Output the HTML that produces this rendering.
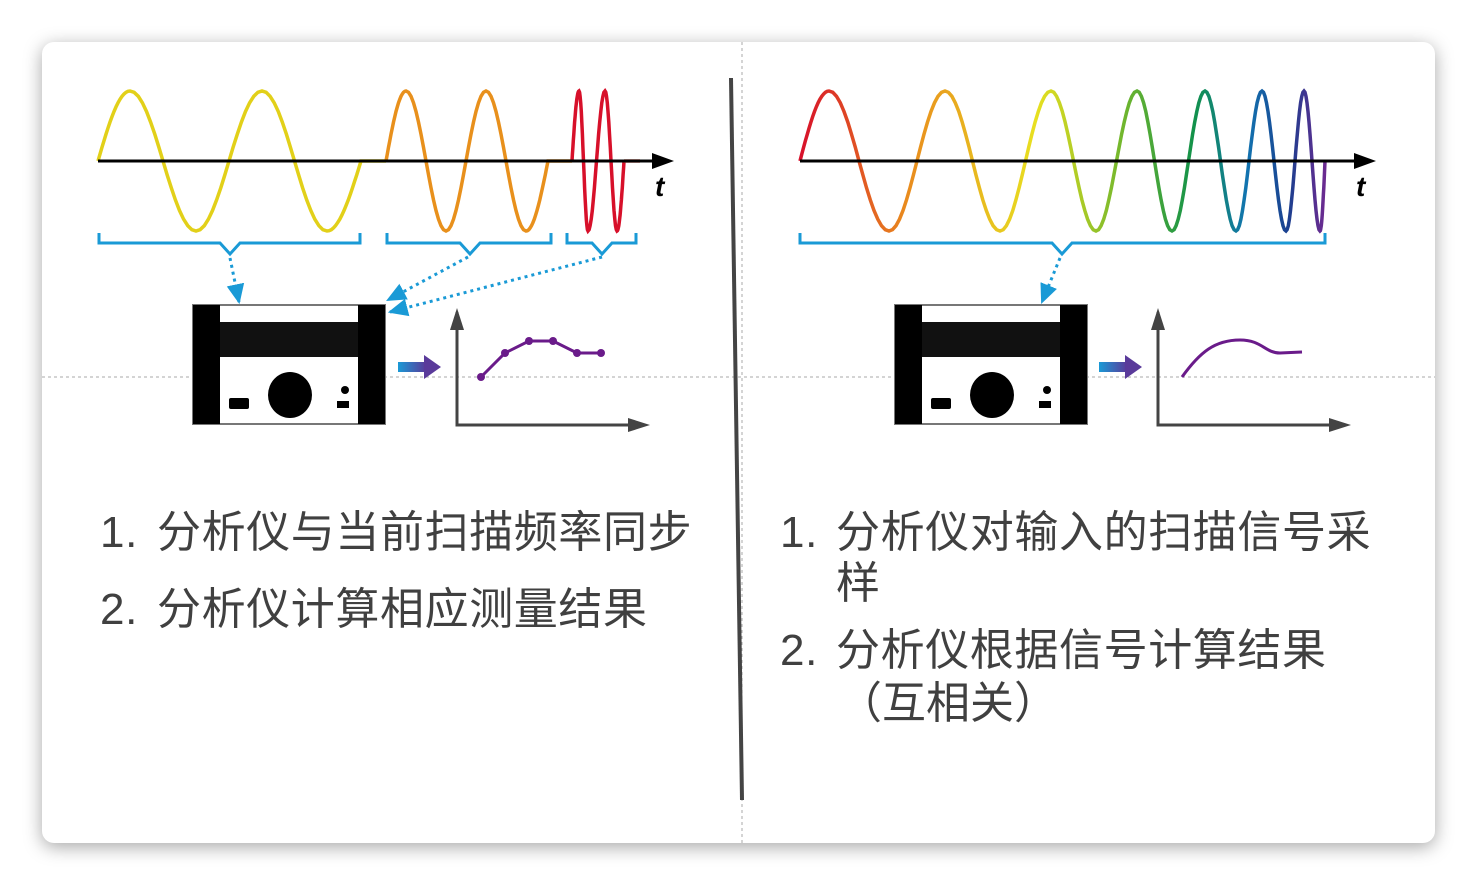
<!DOCTYPE html>
<html><head><meta charset="utf-8"><style>
body{margin:0;width:1477px;height:895px;background:#fff;position:relative;overflow:hidden;font-family:"Liberation Sans","Noto Sans CJK SC",sans-serif}
.card{position:absolute;left:42px;top:42px;width:1393px;height:801px;background:#fff;border-radius:12px;box-shadow:0 4px 18px rgba(0,0,0,.35)}
.t{position:absolute;color:#404040;white-space:nowrap;line-height:1}
.l{font-size:44px;letter-spacing:0.6px}
</style></head><body>
<div class="card"></div>
<svg width="1477" height="895" style="position:absolute;left:0;top:0">
<defs>
<linearGradient id="rb" gradientUnits="userSpaceOnUse" x1="800" y1="0" x2="1325" y2="0">
<stop offset="0" stop-color="#d7102a"/><stop offset="0.2" stop-color="#e98a1e"/><stop offset="0.45" stop-color="#e8e020"/><stop offset="0.62" stop-color="#6db52e"/><stop offset="0.75" stop-color="#12924a"/><stop offset="0.85" stop-color="#1274b0"/><stop offset="0.93" stop-color="#1b3f8f"/><stop offset="1" stop-color="#6b2a90"/>
</linearGradient>
<linearGradient id="ba" x1="0" x2="1"><stop offset="0" stop-color="#1a9ad6"/><stop offset="1" stop-color="#5a3a9a"/></linearGradient>
<marker id="ah" markerWidth="20" markerHeight="20" refX="16" refY="8" orient="auto" markerUnits="userSpaceOnUse" viewBox="0 0 18 16"><path d="M0,0 L18,8 L0,16 z" fill="#1a9ad6"/></marker>
</defs>
<line x1="742" y1="42" x2="742" y2="843" stroke="#aaa" stroke-dasharray="3,3" stroke-width="1"/>
<line x1="42" y1="377" x2="1435" y2="377" stroke="#aaa" stroke-dasharray="3,3" stroke-width="1"/>
<line x1="731" y1="78" x2="742" y2="800" stroke="#444" stroke-width="4"/>
<g id="waves" fill="none" stroke-width="3.5"></g>
<line x1="98" y1="161" x2="660" y2="161" stroke="#000" stroke-width="3"/>
<path d="M652,153 L674,161 L652,169z" fill="#000"/>
<text x="655" y="196" font-size="28" font-weight="bold" font-style="italic" font-family="Liberation Sans">t</text>
<line x1="800" y1="161" x2="1362" y2="161" stroke="#000" stroke-width="3"/>
<path d="M1354,153 L1376,161 L1354,169z" fill="#000"/>
<text x="1356" y="196" font-size="28" font-weight="bold" font-style="italic" font-family="Liberation Sans">t</text>
<g fill="none" stroke="#1a9ad6" stroke-width="3">
<path d="M99,233 V243 H220 L230,254 L240,243 H360 V233"/>
<path d="M387,233 V243 H460 L470,254 L480,243 H551 V233"/>
<path d="M567,233 V243 H592 L602,254 L612,243 H636 V233"/>
<path d="M800,233 V243 H1052 L1062,254 L1072,243 H1325 V233"/>
</g>
<g fill="none" stroke="#1a9ad6" stroke-width="3" stroke-dasharray="3,4" marker-end="url(#ah)">
<line x1="230" y1="258" x2="239" y2="302"/>
<line x1="468" y1="257" x2="388" y2="300"/>
<line x1="602" y1="257" x2="390" y2="312"/>
<line x1="1060" y1="258" x2="1042" y2="302"/>
</g>
<g id="dev"></g>
<g stroke="#444" stroke-width="3" fill="none"><path d="M457,312 V425 H636"/><path d="M1158,312 V425 H1337"/></g>
<g fill="#444"><path d="M450,330 L457,308 L464,330z"/><path d="M628,418 L650,425 L628,432z"/><path d="M1151,330 L1158,308 L1165,330z"/><path d="M1329,418 L1351,425 L1329,432z"/></g>
<rect x="398" y="362" width="28" height="10" fill="url(#ba)"/><path d="M424,355 L441,367 L424,379z" fill="#5a3a9a"/>
<rect x="1099" y="362" width="28" height="10" fill="url(#ba)"/><path d="M1125,355 L1142,367 L1125,379z" fill="#5a3a9a"/>
<polyline points="481,377 505,353 529,341 553,341 577,353 601,353" fill="none" stroke="#6a1b8a" stroke-width="3"/>
<g fill="#6a1b8a"><circle cx="481" cy="377" r="4"/><circle cx="505" cy="353" r="4"/><circle cx="529" cy="341" r="4"/><circle cx="553" cy="341" r="4"/><circle cx="577" cy="353" r="4"/><circle cx="601" cy="353" r="4"/></g>
<path d="M1182,377 C1200,352 1215,340 1240,340 C1262,340 1265,353 1280,353 L1302,352" fill="none" stroke="#6a1b8a" stroke-width="3"/>
</svg>
<div class="t l" style="left:100px;top:511px">1.</div><div class="t l" style="left:157px;top:511px">分析仪与当前扫描频率同步</div>
<div class="t l" style="left:100px;top:588px">2.</div><div class="t l" style="left:157px;top:588px">分析仪计算相应测量结果</div>
<div class="t l" style="left:780px;top:511px">1.</div><div class="t l" style="left:836px;top:511px">分析仪对输入的扫描信号采</div>
<div class="t l" style="left:836px;top:562px">样</div>
<div class="t l" style="left:780px;top:629px">2.</div><div class="t l" style="left:836px;top:629px">分析仪根据信号计算结果</div>
<div class="t l" style="left:838px;top:682px;letter-spacing:0">（互相关）</div>
<script>
var NS="http://www.w3.org/2000/svg";
function seg(x0,ext,C,A){
  var d="M"+x0+","+C,px=x0,py=C;
  for(var i=0;i<ext.length;i++){
    var x1=ext[i][0],y1=C-ext[i][1]*A,q=(py===C);
    for(var k=1;k<=16;k++){
      var t=k/16,x=px+(x1-px)*t,y;
      if(q) y=C+(y1-C)*Math.sin(t*Math.PI/2);
      else y=py+(y1-py)*(1-Math.cos(t*Math.PI))/2;
      d+=" L"+x.toFixed(1)+","+y.toFixed(1);
    }
    px=x1;py=y1;
  }
  return {d:d,px:px,py:py};
}
function add(d,stroke){var p=document.createElementNS(NS,"path");p.setAttribute("d",d);p.setAttribute("stroke",stroke);document.getElementById("waves").appendChild(p);}
function finish(r,xe,C){var d=r.d;for(var k=1;k<=16;k++){var t=k/16;d+=" L"+(r.px+(xe-r.px)*t).toFixed(1)+","+(r.py+(C-r.py)*(1-Math.cos(t*Math.PI/2))).toFixed(1);}return d;}
var C=161,A=70;
var r=seg(98,[[130,1],[196,-1],[262,1],[327,-1]],C,A);add(finish(r,361,C)+" L386,161","#e2d019");
r=seg(386,[[406,1],[446,-1],[486,1],[526,-1]],C,A);add(finish(r,548,C)+" L572,161","#e8901c");
r=seg(572,[[579,1],[588,-1],[605,1],[617,-1]],C,A);add(finish(r,624,C),"#d7102a");
add("M624,161 L640,161","#c86050");
r=seg(800,[[829,1],[889,-1],[945,1],[1000,-1],[1051,1],[1096,-1],[1137,1],[1172,-1],[1205,1],[1236,-1],[1262,1],[1286,-1],[1304,1],[1320,-1]],C,A);
add(finish(r,1325,C),"url(#rb)");
function dev(x){var g=document.getElementById("dev");g.innerHTML+=
'<rect x="'+x+'" y="305" width="192" height="119" fill="#fff" stroke="#777" stroke-width="2"/>'+
'<rect x="'+x+'" y="305" width="27" height="119" fill="#000"/>'+
'<rect x="'+(x+165)+'" y="305" width="27" height="119" fill="#000"/>'+
'<rect x="'+(x+27)+'" y="322" width="138" height="35" fill="#111"/>'+
'<ellipse cx="'+(x+97)+'" cy="395" rx="22" ry="23" fill="#000"/>'+
'<rect x="'+(x+36)+'" y="398" width="20" height="11" rx="2" fill="#000"/>'+
'<circle cx="'+(x+152)+'" cy="390" r="4" fill="#000"/>'+
'<rect x="'+(x+144)+'" y="401" width="12" height="7" fill="#000"/>';}
dev(193);dev(895);
</script>
</body></html>
